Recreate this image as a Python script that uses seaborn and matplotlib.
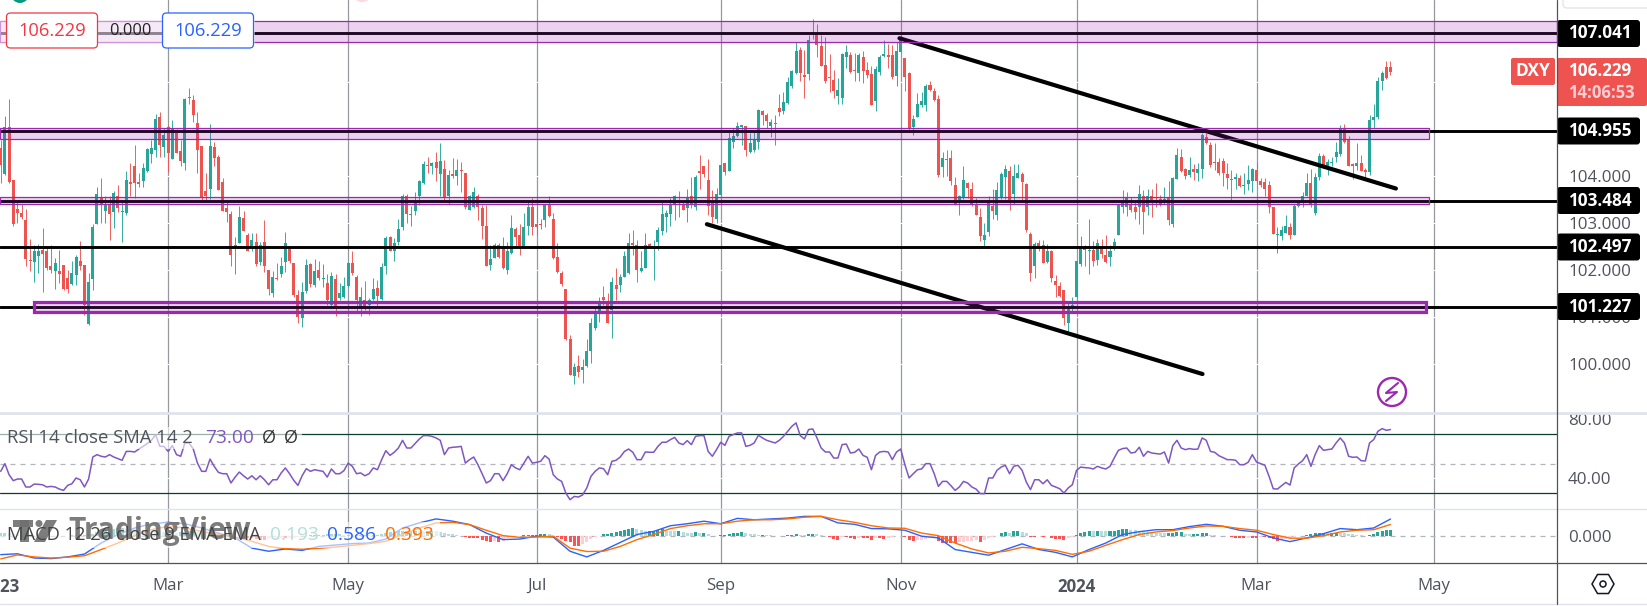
import numpy as np
import pandas as pd
import matplotlib
matplotlib.use('Agg')
import matplotlib.pyplot as plt
from matplotlib.patches import Rectangle, FancyBboxPatch, Circle, Polygon, RegularPolygon
import seaborn as sns

# daily DXY candles, one row per 10 bars
opens = [
    104.60, 104.05, 105.04, 103.92, 103.30, 103.21, 103.07, 102.22, 102.18, 102.31,
    102.43, 102.40, 102.10, 101.99, 101.98, 102.11, 101.84, 101.71, 101.90, 102.20,
    102.11, 100.85, 101.82, 102.99, 103.55, 103.26, 103.42, 103.24, 103.57, 103.23,
    103.21, 103.87, 104.21, 103.87, 103.90, 104.12, 104.48, 104.55, 105.26, 104.63,
    105.06, 104.37, 104.92, 104.54, 104.29, 105.68, 105.62, 105.13, 104.65, 103.69,
    103.72, 104.63, 104.42, 103.87, 103.32, 103.20, 102.50, 102.57, 103.12, 102.75,
    102.50, 102.61, 102.18, 102.60, 102.00, 101.51, 101.84, 101.92, 102.18, 102.47,
    102.15, 101.47, 100.99, 101.56, 102.13, 101.69, 102.00, 101.81, 101.72, 101.26,
    101.82, 101.40, 101.44, 101.66, 102.15, 101.86, 101.22, 101.37, 101.26, 101.39,
    101.62, 101.39, 102.10, 102.70, 102.42, 102.61, 102.91, 103.57, 103.18, 103.27,
    103.57, 103.85, 104.24, 104.23, 104.30, 104.05, 104.16, 103.57, 104.04, 104.00,
    104.13, 104.06, 103.28, 103.35, 103.57, 103.32, 102.95, 102.11, 102.27, 102.54,
    102.49, 102.00, 102.36, 102.88, 102.75, 102.49, 102.94, 103.34, 102.98, 102.98,
    103.07, 103.39, 103.10, 102.29, 101.95, 101.60, 100.54, 99.74, 99.96, 99.88,
    99.96, 100.27, 100.76, 101.12, 101.42, 101.30, 101.15, 101.69, 101.69, 101.86,
    101.95, 102.59, 102.54, 101.98, 102.05, 102.56, 102.49, 102.61, 102.84, 103.14,
    103.20, 103.41, 103.41, 103.42, 103.32, 103.57, 103.35, 104.09, 104.21, 103.92,
    103.46, 103.09, 103.60, 104.28, 104.11, 104.74, 104.86, 105.04, 105.07, 104.52,
    104.56, 104.74, 105.39, 105.31, 105.07, 105.11, 105.45, 105.38, 105.56, 105.92,
    106.19, 106.69, 106.16, 106.17, 107.01, 107.04, 106.77, 106.37, 106.11, 106.05,
    105.71, 105.67, 106.53, 106.58, 106.26, 106.21, 106.55, 106.26, 106.18, 105.61,
    106.23, 106.57, 106.58, 106.58, 106.13, 106.65, 106.51, 106.21, 105.04, 105.27,
    105.51, 105.52, 105.94, 105.82, 105.65, 104.20, 104.37, 104.40, 103.82, 103.50,
    103.55, 103.85, 103.74, 103.41, 103.13, 102.64, 102.82, 103.37, 103.18, 103.55,
    103.99, 104.11, 103.62, 103.96, 104.05, 103.83, 102.77, 102.10, 102.59, 102.54,
    102.18, 102.41, 101.77, 101.66, 101.57, 100.87, 101.19, 101.42, 102.13, 102.52,
    102.40, 102.43, 102.22, 102.50, 102.32, 102.29, 102.45, 102.74, 103.35, 103.34,
    103.38, 103.34, 103.34, 103.57, 103.35, 103.57, 103.50, 103.51, 103.50, 103.53,
    102.98, 103.94, 104.42, 104.16, 104.03, 104.16, 104.06, 104.16, 104.84, 104.67,
    104.30, 104.31, 104.32, 104.05, 103.94, 103.95, 103.96, 103.80, 103.84, 103.91,
    104.13, 103.89, 103.87, 103.81, 103.34, 102.74, 102.73, 102.80, 102.93, 102.75,
    103.37, 103.44, 103.57, 103.85, 103.21, 103.99, 104.43, 104.17, 104.28, 104.42,
    104.47, 105.00, 104.79, 104.24, 104.21, 104.29, 104.12, 104.10, 105.19, 105.26,
    106.02, 106.33, 106.32,
]
highs = [
    104.77, 105.28, 105.65, 103.92, 103.50, 103.42, 103.30, 102.67, 102.54, 102.56,
    102.89, 102.50, 102.54, 102.27, 102.43, 102.11, 102.00, 102.20, 102.32, 102.62,
    102.11, 101.94, 102.99, 103.78, 103.97, 103.57, 103.57, 103.69, 103.81, 103.50,
    104.11, 104.28, 104.67, 104.06, 104.28, 104.60, 104.77, 105.33, 105.36, 105.02,
    105.09, 105.19, 105.00, 104.77, 105.66, 105.87, 105.73, 105.36, 104.65, 104.06,
    105.11, 104.74, 104.45, 103.97, 103.46, 103.26, 102.71, 103.37, 103.27, 102.79,
    102.80, 102.79, 102.61, 103.07, 102.00, 101.99, 102.15, 102.29, 102.81, 102.47,
    102.15, 101.58, 101.76, 102.24, 102.15, 102.24, 102.20, 102.13, 101.93, 101.97,
    101.93, 101.72, 101.86, 102.17, 102.42, 101.90, 101.65, 101.78, 101.40, 101.83,
    101.79, 102.15, 102.73, 102.73, 102.69, 103.10, 103.62, 103.62, 103.37, 103.66,
    103.92, 104.33, 104.42, 104.31, 104.52, 104.70, 104.35, 104.13, 104.38, 104.37,
    104.30, 104.06, 103.60, 103.77, 103.62, 103.39, 103.39, 102.54, 102.57, 102.57,
    102.70, 102.60, 103.18, 102.91, 102.98, 103.21, 103.46, 103.53, 103.35, 103.10,
    103.39, 103.57, 103.21, 102.57, 101.99, 101.61, 100.62, 100.02, 100.19, 100.11,
    100.54, 100.98, 101.22, 101.44, 101.67, 101.51, 101.85, 102.04, 101.92, 102.40,
    102.79, 102.86, 102.64, 102.40, 102.79, 102.59, 102.64, 102.91, 103.46, 103.28,
    103.53, 103.60, 103.69, 103.50, 103.72, 103.99, 104.03, 104.45, 104.23, 104.37,
    103.71, 103.76, 104.26, 104.29, 104.95, 105.02, 105.15, 105.09, 105.07, 104.93,
    104.95, 105.43, 105.41, 105.34, 105.21, 105.31, 105.75, 105.79, 106.11, 106.26,
    106.85, 106.75, 106.69, 107.01, 107.35, 107.24, 107.01, 106.97, 106.60, 106.26,
    106.09, 106.62, 106.80, 106.64, 106.62, 106.63, 106.67, 106.44, 106.35, 106.34,
    106.58, 106.90, 106.81, 106.80, 106.87, 107.10, 106.51, 106.23, 105.31, 105.77,
    105.80, 105.97, 106.02, 105.89, 105.73, 104.52, 104.56, 104.56, 103.99, 103.60,
    104.22, 103.88, 103.87, 103.53, 103.32, 103.00, 103.59, 103.73, 103.87, 104.10,
    104.24, 104.23, 104.26, 104.26, 104.10, 103.85, 102.82, 102.61, 102.64, 102.64,
    102.55, 102.43, 101.90, 101.76, 101.58, 101.30, 101.42, 102.20, 102.73, 102.54,
    103.10, 102.63, 102.66, 102.66, 102.76, 102.54, 102.69, 103.39, 103.71, 103.66,
    103.55, 103.46, 103.81, 103.71, 103.74, 103.72, 103.85, 103.60, 103.78, 103.89,
    103.99, 104.60, 104.58, 104.17, 104.42, 104.26, 104.28, 104.93, 104.92, 104.72,
    104.70, 104.38, 104.40, 104.28, 104.13, 104.06, 104.03, 104.06, 104.24, 104.17,
    104.30, 103.96, 103.96, 103.89, 103.35, 102.93, 102.95, 103.18, 103.01, 103.41,
    103.50, 103.67, 104.06, 104.15, 104.06, 104.49, 104.48, 104.36, 104.42, 104.74,
    105.09, 105.11, 104.86, 104.28, 104.70, 104.45, 104.17, 105.31, 105.53, 106.11,
    106.24, 106.46, 106.46,
]
lows = [
    103.85, 104.03, 103.85, 102.95, 103.00, 103.10, 102.10, 101.99, 101.76, 101.94,
    101.54, 102.00, 101.95, 101.61, 101.72, 101.58, 101.52, 101.69, 101.69, 102.00,
    101.05, 100.83, 101.58, 102.98, 103.00, 103.00, 102.64, 102.89, 103.25, 102.61,
    103.18, 103.57, 103.53, 103.78, 103.78, 104.10, 104.29, 104.42, 104.42, 104.42,
    104.10, 104.37, 104.49, 104.21, 104.13, 105.55, 105.16, 104.06, 103.50, 103.50,
    103.51, 104.23, 103.70, 103.27, 103.02, 102.08, 101.92, 102.57, 102.84, 102.40,
    102.40, 102.08, 102.11, 101.97, 101.47, 101.44, 101.79, 101.86, 101.97, 102.15,
    101.42, 100.87, 100.80, 101.51, 101.65, 101.65, 101.79, 101.65, 101.26, 101.22,
    101.03, 101.37, 101.40, 101.65, 101.90, 101.12, 101.03, 101.15, 101.05, 101.37,
    101.22, 101.37, 101.93, 102.40, 102.20, 102.54, 102.86, 103.00, 102.95, 103.18,
    103.39, 103.84, 104.06, 104.05, 103.89, 103.57, 103.50, 103.41, 103.96, 103.82,
    103.67, 103.30, 103.28, 103.32, 103.06, 102.67, 102.10, 102.00, 102.25, 102.25,
    102.02, 101.92, 102.35, 102.50, 102.33, 102.47, 102.75, 102.75, 102.75, 102.88,
    102.93, 103.14, 102.23, 101.95, 101.66, 100.52, 99.76, 99.58, 99.73, 99.59,
    99.95, 100.03, 100.73, 100.90, 101.26, 100.87, 100.56, 101.37, 101.54, 101.85,
    101.93, 102.32, 101.76, 101.96, 102.04, 102.47, 101.79, 102.43, 102.75, 102.82,
    102.95, 103.07, 103.14, 103.28, 103.03, 103.32, 103.28, 103.74, 103.99, 103.18,
    103.01, 103.01, 103.60, 104.03, 104.11, 104.60, 104.84, 104.67, 104.44, 104.49,
    104.52, 104.58, 105.09, 105.02, 104.83, 104.67, 105.29, 105.33, 105.54, 105.89,
    106.18, 106.03, 105.67, 106.05, 106.92, 106.53, 106.34, 105.98, 105.80, 105.67,
    105.55, 105.54, 106.30, 106.21, 106.03, 106.03, 105.98, 106.09, 105.52, 105.38,
    106.16, 106.53, 106.30, 106.07, 105.92, 106.64, 105.82, 104.99, 104.87, 105.26,
    105.47, 105.38, 105.82, 105.60, 103.99, 103.99, 104.01, 103.82, 103.39, 103.18,
    103.52, 103.53, 103.37, 103.18, 102.63, 102.52, 102.73, 103.10, 103.07, 103.52,
    103.52, 103.28, 103.42, 103.96, 103.50, 102.82, 101.77, 101.84, 102.40, 102.15,
    102.15, 101.76, 101.44, 101.44, 100.83, 100.69, 101.12, 101.40, 102.09, 102.08,
    101.92, 102.09, 102.11, 102.25, 102.15, 102.10, 102.43, 102.74, 103.21, 103.15,
    103.25, 103.10, 102.98, 102.77, 103.18, 103.14, 103.35, 103.37, 103.42, 102.96,
    102.91, 103.94, 104.10, 103.94, 103.99, 103.92, 103.90, 103.97, 104.69, 104.19,
    104.13, 104.03, 103.79, 103.74, 103.45, 103.74, 103.77, 103.62, 103.71, 103.67,
    103.83, 103.77, 103.58, 103.21, 102.77, 102.37, 102.64, 102.79, 102.66, 102.75,
    103.35, 103.34, 103.57, 103.35, 103.18, 103.92, 104.18, 104.03, 104.23, 104.31,
    104.44, 104.70, 104.21, 103.94, 104.13, 104.11, 103.99, 104.03, 105.02, 105.23,
    105.84, 106.07, 106.16,
]
closes = [
    104.24, 105.06, 103.87, 102.98, 103.21, 103.13, 102.24, 102.20, 102.40, 102.40,
    102.35, 102.04, 102.00, 102.15, 101.91, 101.61, 101.59, 101.94, 102.29, 102.10,
    101.26, 101.74, 102.91, 103.62, 103.41, 103.41, 103.20, 103.64, 103.32, 103.25,
    103.92, 103.84, 103.85, 103.84, 104.17, 104.58, 104.60, 105.22, 104.67, 104.88,
    104.49, 105.02, 104.50, 104.33, 105.64, 105.67, 105.31, 104.56, 103.55, 103.57,
    104.65, 104.40, 103.70, 103.27, 103.23, 102.32, 102.54, 103.14, 102.84, 102.42,
    102.64, 102.13, 102.54, 102.08, 101.59, 101.85, 101.82, 102.10, 102.57, 102.20,
    101.47, 101.01, 101.54, 102.11, 101.71, 101.99, 101.83, 101.83, 101.37, 101.88,
    101.22, 101.51, 101.66, 102.15, 101.94, 101.37, 101.42, 101.19, 101.37, 101.60,
    101.45, 102.06, 102.68, 102.42, 102.57, 102.87, 103.57, 103.19, 103.20, 103.46,
    103.90, 104.26, 104.21, 104.28, 104.17, 104.33, 103.55, 104.03, 104.00, 104.13,
    104.11, 103.34, 103.57, 103.67, 103.34, 102.95, 102.10, 102.23, 102.54, 102.29,
    102.04, 102.40, 102.89, 102.70, 102.50, 102.91, 103.34, 102.91, 102.91, 102.96,
    103.38, 103.15, 102.27, 101.97, 101.71, 100.53, 99.76, 99.93, 99.84, 99.93,
    100.28, 100.88, 101.12, 101.30, 101.37, 100.88, 101.76, 101.59, 101.86, 102.31,
    102.59, 102.54, 102.00, 102.04, 102.54, 102.49, 102.52, 102.86, 103.20, 103.21,
    103.41, 103.57, 103.38, 103.28, 103.53, 103.42, 103.99, 104.08, 104.05, 103.37,
    103.13, 103.62, 104.24, 104.10, 104.81, 104.86, 105.07, 105.09, 104.56, 104.70,
    104.77, 105.41, 105.31, 105.18, 105.15, 105.13, 105.36, 105.58, 106.01, 106.25,
    106.67, 106.19, 106.12, 106.90, 107.00, 106.80, 106.34, 106.03, 106.09, 105.82,
    105.84, 106.60, 106.65, 106.23, 106.24, 106.58, 106.25, 106.16, 105.52, 106.28,
    106.55, 106.60, 106.55, 106.11, 106.67, 106.97, 106.12, 105.01, 105.22, 105.54,
    105.60, 105.92, 105.84, 105.62, 104.03, 104.40, 104.35, 103.91, 103.41, 103.57,
    103.92, 103.76, 103.39, 103.18, 102.73, 102.76, 103.50, 103.27, 103.71, 104.05,
    104.16, 103.50, 104.01, 104.08, 103.87, 102.86, 101.95, 102.55, 102.52, 102.16,
    102.40, 101.84, 101.69, 101.45, 100.98, 101.19, 101.26, 102.20, 102.52, 102.43,
    102.42, 102.20, 102.57, 102.35, 102.17, 102.41, 102.61, 103.38, 103.46, 103.55,
    103.28, 103.23, 103.62, 103.23, 103.57, 103.44, 103.46, 103.42, 103.52, 103.06,
    103.96, 104.45, 104.12, 104.01, 104.14, 104.09, 104.15, 104.88, 104.70, 104.24,
    104.28, 104.06, 104.06, 103.97, 103.92, 103.98, 103.80, 103.81, 103.92, 104.16,
    103.89, 103.82, 103.73, 103.34, 102.77, 102.75, 102.86, 102.94, 102.76, 103.37,
    103.46, 103.57, 103.85, 103.38, 103.99, 104.43, 104.21, 104.30, 104.30, 104.52,
    105.00, 104.74, 104.23, 104.23, 104.28, 104.12, 104.10, 105.20, 105.26, 106.03,
    106.19, 106.09, 106.229,
]

rsi = [
    44.7, 49.9, 42.4, 38.4, 39.5, 39.5, 34.1, 34.1, 36.1, 35.9,
    35.6, 34.1, 34.5, 34.1, 32.7, 31.8, 35.2, 36.3, 40.2, 39.0,
    34.1, 39.5, 54.4, 56.0, 54.9, 54.4, 56.0, 54.4, 53.3, 52.2,
    58.2, 58.2, 57.8, 59.8, 61.6, 63.5, 65.7, 69.6, 61.6, 61.6,
    58.2, 62.1, 56.0, 54.9, 63.9, 63.9, 59.8, 50.3, 44.7, 44.7,
    53.0, 48.1, 44.0, 43.1, 43.1, 36.8, 40.8, 44.2, 41.7, 39.5,
    41.7, 39.0, 41.7, 39.0, 35.6, 39.0, 39.0, 43.6, 47.0, 43.1,
    38.6, 35.2, 41.7, 46.5, 44.7, 45.8, 45.2, 44.7, 40.8, 46.3,
    43.1, 43.1, 45.2, 50.3, 48.1, 43.1, 43.6, 41.7, 43.1, 47.0,
    45.8, 52.6, 58.7, 55.5, 57.6, 60.5, 65.7, 60.5, 60.5, 63.5,
    66.6, 68.9, 68.9, 68.4, 67.3, 65.7, 56.0, 60.5, 61.0, 61.2,
    61.6, 50.3, 52.6, 54.4, 49.2, 43.1, 36.8, 38.4, 43.1, 43.1,
    38.4, 43.1, 49.2, 47.0, 45.8, 50.3, 54.9, 50.3, 50.8, 51.5,
    55.3, 53.0, 42.4, 39.5, 37.9, 30.0, 25.5, 27.7, 27.3, 28.7,
    33.4, 41.3, 44.7, 47.0, 46.5, 42.4, 51.5, 52.2, 54.4, 58.2,
    59.8, 57.6, 52.6, 52.6, 57.8, 57.6, 57.6, 61.6, 64.4, 64.4,
    66.2, 67.7, 63.9, 62.8, 65.5, 62.8, 68.4, 68.9, 68.9, 58.2,
    54.9, 59.4, 64.4, 62.3, 68.4, 69.6, 70.7, 70.7, 61.6, 62.3,
    63.9, 69.1, 67.3, 65.7, 64.8, 63.9, 65.7, 68.4, 71.8, 75.2,
    77.5, 68.9, 66.6, 73.0, 73.4, 67.3, 60.5, 57.8, 57.8, 53.7,
    53.7, 62.8, 63.2, 57.1, 57.6, 59.8, 55.5, 54.2, 45.8, 55.5,
    57.8, 58.2, 57.8, 52.6, 57.8, 59.8, 49.2, 40.2, 43.1, 45.8,
    46.3, 49.9, 49.9, 43.1, 34.5, 37.9, 37.9, 35.0, 31.8, 34.1,
    37.9, 36.8, 34.1, 32.7, 29.6, 29.6, 40.2, 40.2, 45.4, 47.6,
    48.8, 43.1, 48.1, 48.8, 45.4, 37.5, 32.3, 39.0, 39.0, 36.3,
    39.0, 35.2, 34.1, 32.9, 30.0, 33.4, 35.6, 45.4, 47.6, 47.2,
    47.0, 46.3, 48.1, 47.0, 46.3, 48.1, 53.7, 58.9, 60.1, 60.5,
    57.1, 57.6, 61.0, 54.9, 58.2, 57.1, 56.7, 56.4, 57.8, 50.3,
    62.1, 65.7, 60.5, 59.4, 60.1, 59.6, 59.8, 67.3, 65.7, 58.2,
    57.6, 55.3, 54.0, 52.6, 52.6, 52.2, 49.2, 49.2, 50.8, 56.0,
    51.0, 49.9, 48.8, 41.3, 32.9, 32.7, 35.0, 37.2, 35.4, 47.0,
    49.7, 51.9, 56.0, 48.1, 56.0, 62.1, 58.9, 59.4, 59.8, 63.9,
    67.3, 63.9, 54.9, 54.2, 54.4, 51.9, 51.7, 63.9, 66.2, 71.8,
    73.6, 72.5, 73.0,
]

hist = [
    .10, .10, .09, .07, .05, .03, .01, -.01, -.02, -.03,
    -.03, -.03, -.03, -.02, -.02, -.01, .00, .01, .02, .03,
    .04, .05, .07, .12, .16, .20, .23, .25, .27, .28,
    .26, .25, .24, .22, .21, .20, .18, .16, .15, .14,
    .13, .12, .11, .12, .13, .15, .15, .14, .12, .11,
    .10, .09, .08, .06, .04, .02, .00, -.03, -.05, -.07,
    -.10, -.12, -.14, -.14, -.13, -.12, -.11, -.10, -.10, -.09,
    -.07, -.05, -.03, -.01, .01, .02, .03, .04, .05, .05,
    .05, .05, .04, .04, .03, .03, .03, .03, .02, .02,
    .04, .07, .10, .12, .13, .15, .16, .16, .17, .17,
    .16, .15, .16, .17, .15, .12, .09, .07, .05, .03,
    -.02, -.05, -.07, -.09, -.10, -.14, -.20, -.22, -.20, -.22,
    -.18, -.10, -.06, -.03, -.01, .01, .02, .03, .04, .05,
    .07, .05, -.03, -.06, -.12, -.18, -.24, -.35, -.35, -.30,
    -.24, -.12, -.06, -.01, .06, .07, .09, .12, .16, .21,
    .24, .26, .22, .19, .16, .17, .18, .21, .22, .18,
    .17, .16, .16, .12, .10, .09, .12, .11, .11, .07,
    .00, -.01, .01, .02, .05, .08, .10, .12, .08, .06,
    .05, .04, .04, .03, .01, -.01, -.01, .00, .02, .04,
    .05, .04, .03, .05, .07, .05, .02, -.03, -.06, -.12,
    -.14, -.05, -.05, -.09, -.11, -.08, -.08, -.09, -.15, -.08,
    -.10, -.12, -.09, -.06, -.03, -.02, -.05, -.16, -.19, -.17,
    -.14, -.12, -.10, -.06, -.20, -.26, -.26, -.26, -.26, -.24,
    -.22, -.20, -.19, -.15, -.21, -.14, -.10, -.05, -.02, .09,
    .12, .09, .15, .16, .14, .10, -.04, -.04, -.03, -.06,
    -.03, -.09, -.12, -.13, -.17, -.09, -.06, .01, .09, .13,
    .16, .15, .17, .16, .15, .15, .17, .21, .24, .24,
    .21, .19, .16, .15, .14, .12, .10, .09, .08, .08,
    .09, .12, .12, .06, .05, .06, .07, .09, .09, .04,
    .02, .00, -.02, -.03, -.06, -.07, -.07, -.09, -.07, -.07,
    -.08, -.06, -.06, -.09, -.12, -.18, -.14, -.12, -.07, -.05,
    -.03, -.01, .04, .07, .08, .09, .09, .08, .10, .11,
    .10, .08, .07, .05, .02, .01, -.02, .03, .07, .12,
    .16, .19, .19,
]

# MACD lines, read every 4th bar
macd_line = [
    -.67, -.64, -.79, -.81, -.75, -.65, -.26, .04, .27, .42, .47, .42, .27, .09,
    -.08, -.44, -.55, -.47, -.52, -.38, -.33, -.28, -.26, -.12, .27, .45, .59, .51,
    .39, .09, -.14, -.12, -.02, -.05,
    -.55, -.75, -.52, -.24, .04, .15, .35, .42, .51, .42, .61, .56, .59, .62, .68, .68,
    .45, .40, .25, .24, .19, -.02, -.08, -.49, -.59, -.69, -.49, -.29, -.49, -.59, -.75, -.49,
    -.26, .04, .14, .21, .21, .32, .40, .33, .19, .13, -.08, -.21, -.08, .07, .25, .21, .27, .586,
]
signal_line = [
    -.82, -.68, -.75, -.79, -.76, -.71, -.49, -.26, .00, .21, .33, .27, .15, .04,
    -.05, -.20, -.38, -.46, -.48, -.45, -.40, -.34, -.28, -.20, .04, .27, .45, .47,
    .39, .19, .00, -.06, -.05, -.02,
    -.44, -.56, -.55, -.38, -.14, .04, .25, .35, .42, .42, .51, .56, .56, .59, .65, .68,
    .56, .47, .35, .27, .26, .09, .00, -.26, -.47, -.61, -.55, -.41, -.46, -.52, -.66, -.55,
    -.34, -.14, .04, .13, .18, .27, .34, .33, .25, .19, .04, -.09, -.09, .00, .13, .19, .21, .393,
]

tick_bars = [0, 40, 83, 128, 172, 215, 257, 300, 342.4]
tick_labels = ['2023', 'Mar', 'May', 'Jul', 'Sep', 'Nov', '2024', 'Mar', 'May']
level_prices = [107.041, 104.955, 103.484, 102.497, 101.227]
level_labels = ['107.041', '104.955', '103.484', '102.497', '101.227']
price_ticks = [100, 101, 102, 103, 104]

W, H = 1647, 606
RIGHT = 1557
UP, DOWN = '#26a69a', '#ef5350'
PURPLE = '#9c27b0'
FONT = 'Open Sans'


def bar_at(px):
    # horizontal pixel -> bar number
    return (px - 0.714) / 4.186


sns.set_theme(style='white')
plt.rcParams['font.family'] = [FONT, 'DejaVu Sans']

df = pd.DataFrame({'open': opens, 'high': highs, 'low': lows, 'close': closes})
df['bar'] = df.index
df['up'] = df['close'] >= df['open']
macd_bars = list(range(0, len(df), 4))

fig = plt.figure(figsize=(W / 100, H / 100), dpi=100, facecolor='white')
ax_price = fig.add_axes([0, 1 - 413 / H, RIGHT / W, 413 / H])
ax_rsi = fig.add_axes([0, 1 - 509 / H, RIGHT / W, 96 / H])
ax_macd = fig.add_axes([0, 1 - 563 / H, RIGHT / W, 54 / H])

for ax in (ax_price, ax_rsi, ax_macd):
    ax.set_xlim(bar_at(0), bar_at(RIGHT))
    for t in tick_bars[1:]:
        ax.axvline(t, color='#9598a1', lw=0.9, zorder=0.5)
    for s in ax.spines.values():
        s.set_visible(False)
    ax.yaxis.tick_right()
    ax.tick_params(axis='y', length=0, pad=8, labelsize=12.2, labelcolor='#50535e')
    ax.tick_params(axis='x', length=0)
    ax.set_xlabel('')
    ax.set_ylabel('')

# price pane
ax_price.set_ylim(98.96, 107.754)
ax_price.set_yticks(price_ticks)
ax_price.set_yticklabels([f'{p:.3f}' for p in price_ticks])
ax_price.set_xticks([])
for p in [100, 101, 102, 103, 104, 106]:
    ax_price.axhline(p, color='white', lw=0.8, zorder=0.8)

for up, color in ((True, UP), (False, DOWN)):
    part = df[df['up'] == up]
    ax_price.vlines(part['bar'], part['low'], part['high'], color=color, lw=0.65, zorder=2)
    body = np.maximum((part['close'] - part['open']).abs(), 0.025)
    ax_price.bar(part['bar'], body, bottom=part[['open', 'close']].min(axis=1),
                 width=0.72, color=color, linewidth=0, zorder=2.1)

for p in level_prices:
    ax_price.axhline(p, color='black', lw=2.1, zorder=3)

ax_price.plot([214.7, 333.3], [106.94, 103.74], color='black', lw=3, solid_capstyle='round', zorder=3.2)
ax_price.plot([168.7, 287.1], [102.98, 99.79], color='black', lw=3, solid_capstyle='round', zorder=3.2)

zones = [(0, RIGHT, 106.85, 107.30, 0.9), (0, 1429, 104.79, 105.02, 0.9),
         (0, 1429, 103.42, 103.55, 0.9), (34, 1426, 101.10, 101.33, 2.3)]
for x0, x1, lo, hi, lw in zones:
    ax_price.add_patch(Rectangle((bar_at(x0), lo), bar_at(x1) - bar_at(x0), hi - lo,
                                 facecolor=PURPLE, alpha=0.2, linewidth=0, zorder=4))
    ax_price.add_patch(Rectangle((bar_at(x0), lo), bar_at(x1) - bar_at(x0), hi - lo,
                                 fill=False, edgecolor=PURPLE, lw=lw, zorder=4.1))

# RSI pane
ax_rsi.set_ylim(19.2, 84.2)
ax_rsi.set_yticks([40, 80])
ax_rsi.set_yticklabels(['40.00', '80.00'])
ax_rsi.set_xticks([])
ax_rsi.axhline(40, color='white', lw=0.8, zorder=0.8)
ax_rsi.axhline(70, color='#0b3d2e', lw=0.9, zorder=1)
ax_rsi.axhline(30, color='#0b3d2e', lw=0.9, zorder=1)
ax_rsi.axhline(50, color='#b2b5be', lw=0.9, ls=(0, (4, 4)), zorder=1)
sns.lineplot(x=df['bar'], y=rsi, ax=ax_rsi, color='#7e57c2', lw=1.1, zorder=3)
ax_rsi.set_xlabel('')
ax_rsi.set_ylabel('')

# MACD pane
kinds = []
for i, v in enumerate(hist):
    prev = hist[i - 1] if i else v
    if v >= 0:
        kinds.append('up_strong' if v >= prev else 'up_weak')
    else:
        kinds.append('down_strong' if v <= prev else 'down_weak')
sns.barplot(x=df['bar'], y=hist, hue=kinds, ax=ax_macd, native_scale=True, dodge=False,
            width=0.72, saturation=1, legend=False, linewidth=0, zorder=2,
            palette={'up_strong': UP, 'up_weak': '#b2dfdb', 'down_strong': '#ff5252', 'down_weak': '#ffcdd2'})
ax_macd.axhline(0, color='#b2b5be', lw=0.9, ls=(0, (4, 4)), zorder=1)
sns.lineplot(x=macd_bars, y=macd_line, ax=ax_macd, color='#2962ff', lw=1.0, zorder=3)
sns.lineplot(x=macd_bars, y=signal_line, ax=ax_macd, color='#ff6d00', lw=1.0, zorder=3.1)
ax_macd.set_xlim(bar_at(0), bar_at(RIGHT))
ax_macd.set_ylim(-0.965, 0.94)
ax_macd.set_yticks([0])
ax_macd.set_yticklabels(['0.000'])
ax_macd.set_xticks(tick_bars)
ax_macd.set_xticklabels(tick_labels)
ax_macd.tick_params(axis='x', pad=11, labelsize=12.2, labelcolor='#50535e')
for lab in ax_macd.get_xticklabels():
    if lab.get_text() in ('2023', '2024'):
        lab.set_fontweight('bold')
ax_macd.set_xlabel('')
ax_macd.set_ylabel('')

# everything else is drawn on a pixel overlay
top = fig.add_axes([0, 0, 1, 1], zorder=10)
top.set_xlim(0, W)
top.set_ylim(H, 0)
top.axis('off')
top.patch.set_alpha(0)

top.plot([0, W], [413, 413], color='#e0e3eb', lw=2)
top.plot([0, W], [509, 509], color='#e0e3eb', lw=1)
top.plot([0, W], [563, 563], color='#50535e', lw=0.9)
top.plot([0, W], [604, 604], color='#e0e3eb', lw=1)
top.plot([RIGHT, RIGHT], [0, 604], color='#50535e', lw=0.9)

# order entry widgets
top.add_patch(Rectangle((0, 21), 255, 22, facecolor='white', alpha=0.5, linewidth=0))
for x0, col, txt in ((6.5, '#f23645', '106.229'), (162.5, '#2962ff', '106.229')):
    top.add_patch(FancyBboxPatch((x0, 13), 91, 35, boxstyle='round,pad=0,rounding_size=4',
                                 facecolor='white', edgecolor=col, lw=0.9))
    top.text(x0 + 45.5, 31, txt, color=col, ha='center', va='center', fontsize=13.2)
top.text(130, 31, '0.000', color='#222222', ha='center', va='center', fontsize=11.8)
top.add_patch(Circle((20, -6), 9, color='#089981', linewidth=0))
top.add_patch(Circle((362, -8), 10, color='#fbd9dc', linewidth=0))
top.add_patch(FancyBboxPatch((1563, -12), 90, 20, boxstyle='round,pad=0,rounding_size=4',
                             facecolor='white', edgecolor='#e0e3eb', lw=0.9))

# right scale badges
for p, txt, y in zip(level_prices, level_labels, (33.5, 131, 200.5, 247, 306.5)):
    top.add_patch(FancyBboxPatch((RIGHT, y - 13.5), 83, 27, boxstyle='round,pad=0,rounding_size=3',
                                 facecolor='black', linewidth=0))
    top.text(1599.5, y, txt, color='white', ha='center', va='center', fontsize=12.3, fontweight='bold')
top.add_patch(FancyBboxPatch((1511, 58), 44, 27, boxstyle='round,pad=0,rounding_size=2',
                             facecolor=DOWN, linewidth=0))
top.text(1533, 71.5, 'DXY', color='white', ha='center', va='center', fontsize=12.5, fontweight='bold')
top.add_patch(FancyBboxPatch((RIGHT, 58), 90, 48, boxstyle='round,pad=0,rounding_size=2',
                             facecolor=DOWN, linewidth=0))
top.text(1600, 71.5, '106.229', color='white', ha='center', va='center', fontsize=12.3, fontweight='bold')
top.text(1601, 92.5, '14:06:53', color='#ffcdd2', ha='center', va='center', fontsize=12, fontweight='bold')

# legends
top.add_patch(Rectangle((0, 427), 302, 22, facecolor='white', alpha=0.6, linewidth=0))
top.text(7, 438, 'RSI 14 close SMA 14 2', color='#50535e', va='center', fontsize=13.3)
top.text(205, 438, '73.00', color='#7e57c2', va='center', fontsize=13.8)
top.text(262, 438, 'Ø', color='#333333', va='center', fontsize=13)
top.text(284, 438, 'Ø', color='#333333', va='center', fontsize=13)

top.add_patch(Rectangle((0, 522), 440, 26, facecolor='white', alpha=0.6, linewidth=0))
grey = '#6f6f6f'
top.add_patch(Rectangle((12.5, 520), 20, 7, facecolor=grey, alpha=0.9, linewidth=0))
top.add_patch(Rectangle((20, 520), 9, 22, facecolor=grey, alpha=0.9, linewidth=0))
top.add_patch(Circle((39, 523.5), 3.5, facecolor=grey, alpha=0.9, linewidth=0))
top.add_patch(Polygon([(34, 542), (46, 520), (57, 520), (45, 542)], facecolor=grey, alpha=0.9, linewidth=0))
top.text(68, 531, 'TradingView', color=grey, alpha=0.9, va='center', fontsize=21.5, fontweight='bold')
top.text(7, 535, 'MACD 12 26 close 9 EMA EMA', color='#444444', va='center', fontsize=13.2)
top.text(270, 535, '0.193', color='#b2dfdb', va='center', fontsize=13.8)
top.text(327, 535, '0.586', color='#2962ff', va='center', fontsize=13.8)
top.text(385, 535, '0.393', color='#ff6d00', va='center', fontsize=13.8)

# lightning badge and settings icon
top.add_patch(Circle((1392, 392), 14, fill=False, edgecolor=PURPLE, lw=1.7))
top.plot([1398, 1386, 1397, 1386], [383, 393, 392, 401], color=PURPLE, lw=1.5)
top.add_patch(RegularPolygon((1603, 584), 6, radius=11, orientation=np.pi / 2, fill=False,
                             edgecolor='#131722', lw=1.1))
top.add_patch(Circle((1603, 584), 3, fill=False, edgecolor='#131722', lw=1.1))

fig.savefig('out.png', dpi=100)
